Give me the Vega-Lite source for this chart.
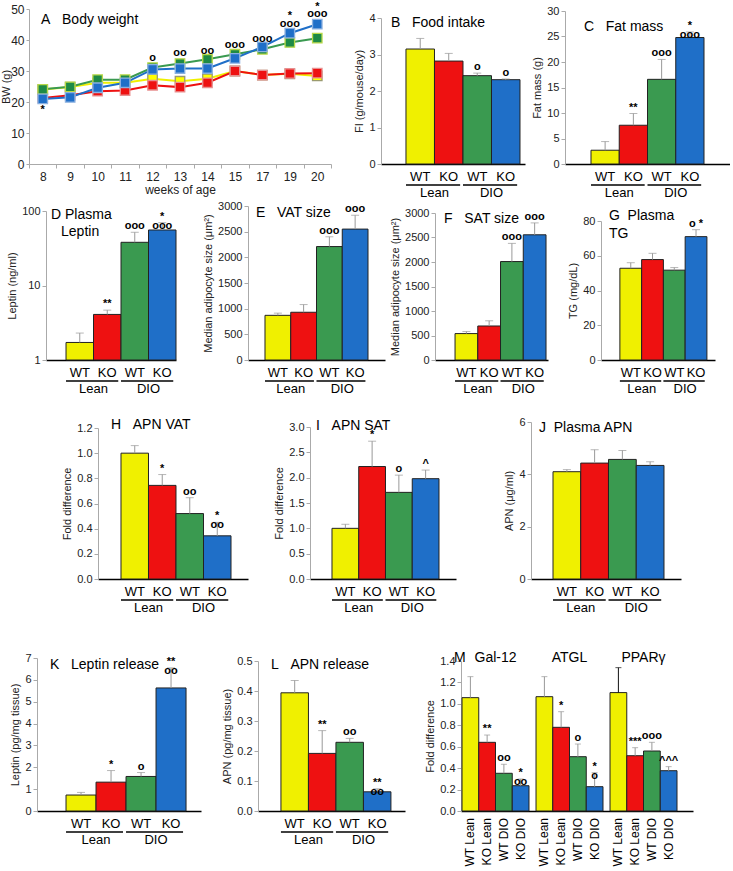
{
"$schema": "https://vega.github.io/schema/vega-lite/v6.json",
"padding": 0,
"config": {
 "font": "Liberation Sans",
 "view": {"stroke": null},
 "bar": {"stroke": "#222", "strokeWidth": 1},
 "text": {"font": "Liberation Sans"},
 "axis": {"grid": false, "labelFont": "Liberation Sans", "titleFont": "Liberation Sans", "labelColor": "#222", "titleColor": "#222", "titleFontWeight": "normal", "titleFontSize": 11, "labelFontSize": 11, "labelOverlap": false},
 "axisY": {"domainColor": "#aaa", "tickColor": "#aaa", "tickSize": 4, "labelPadding": 2, "titlePadding": 4},
 "axisX": {"domainColor": "#000", "domainWidth": 1.5, "ticks": false, "labelAngle": 0, "labelFontSize": 13, "labelPadding": 6, "labelColor": "#000"}
},
"datasets": {
 "grp": [{"grp":"Lean","a":"WT Lean","b":"KO Lean"},{"grp":"DIO","a":"WT DIO","b":"KO DIO"}],
 "A": [
  {"wk":8,"g":"WT Lean","bw":24.0},{"wk":9,"g":"WT Lean","bw":24.8},{"wk":10,"g":"WT Lean","bw":26.2},{"wk":11,"g":"WT Lean","bw":26.2},{"wk":12,"g":"WT Lean","bw":27.5},{"wk":13,"g":"WT Lean","bw":26.7},{"wk":14,"g":"WT Lean","bw":27.5},{"wk":15,"g":"WT Lean","bw":30.0},{"wk":17,"g":"WT Lean","bw":28.7},{"wk":19,"g":"WT Lean","bw":29.1},{"wk":20,"g":"WT Lean","bw":28.4},
  {"wk":8,"g":"KO Lean","bw":21.3},{"wk":9,"g":"KO Lean","bw":22.2},{"wk":10,"g":"KO Lean","bw":23.5},{"wk":11,"g":"KO Lean","bw":23.7},{"wk":12,"g":"KO Lean","bw":25.4},{"wk":13,"g":"KO Lean","bw":24.8},{"wk":14,"g":"KO Lean","bw":26.2},{"wk":15,"g":"KO Lean","bw":30.0},{"wk":17,"g":"KO Lean","bw":28.7},{"wk":19,"g":"KO Lean","bw":29.2},{"wk":20,"g":"KO Lean","bw":29.3},
  {"wk":8,"g":"WT DIO","bw":24.1},{"wk":9,"g":"WT DIO","bw":24.9},{"wk":10,"g":"WT DIO","bw":27.2},{"wk":11,"g":"WT DIO","bw":27.2},{"wk":12,"g":"WT DIO","bw":31.1},{"wk":13,"g":"WT DIO","bw":32.4},{"wk":14,"g":"WT DIO","bw":33.8},{"wk":15,"g":"WT DIO","bw":35.4},{"wk":17,"g":"WT DIO","bw":37.0},{"wk":19,"g":"WT DIO","bw":39.2},{"wk":20,"g":"WT DIO","bw":40.6},
  {"wk":8,"g":"KO DIO","bw":21.0},{"wk":9,"g":"KO DIO","bw":21.5},{"wk":10,"g":"KO DIO","bw":24.6},{"wk":11,"g":"KO DIO","bw":26.2},{"wk":12,"g":"KO DIO","bw":30.5},{"wk":13,"g":"KO DIO","bw":30.8},{"wk":14,"g":"KO DIO","bw":30.8},{"wk":15,"g":"KO DIO","bw":34.1},{"wk":17,"g":"KO DIO","bw":37.8},{"wk":19,"g":"KO DIO","bw":42.2},{"wk":20,"g":"KO DIO","bw":45.1}
 ],
 "Aann": [{"wk":8,"y":17.5,"s":"*"},{"wk":12,"y":34.3,"s":"o"},{"wk":13,"y":35.7,"s":"oo"},{"wk":14,"y":36.3,"s":"oo"},{"wk":15,"y":38.3,"s":"ooo"},{"wk":17,"y":40.3,"s":"ooo"},{"wk":19,"y":45.3,"s":"ooo"},{"wk":19,"y":47.8,"s":"*"},{"wk":20,"y":48.4,"s":"ooo"},{"wk":20,"y":50.8,"s":"*"}],
 "B": [{"g":"WT Lean","v":3.15,"hi":3.44,"sig":""},{"g":"KO Lean","v":2.82,"hi":3.03,"sig":""},{"g":"WT DIO","v":2.42,"hi":2.49,"sig":"o"},{"g":"KO DIO","v":2.31,"hi":2.33,"sig":"o"}],
 "C": [{"g":"WT Lean","v":2.7,"hi":4.4,"sig":""},{"g":"KO Lean","v":7.6,"hi":9.9,"sig":"**"},{"g":"WT DIO","v":16.6,"hi":20.5,"sig":"ooo"},{"g":"KO DIO","v":24.8,"hi":25.9,"sig":"*\nooo"}],
 "D": [{"g":"WT Lean","v":1.72,"hi":2.3,"sig":""},{"g":"KO Lean","v":4.09,"hi":4.67,"sig":"**"},{"g":"WT DIO","v":38,"hi":51.8,"sig":"ooo"},{"g":"KO DIO","v":55.6,"hi":69.8,"sig":"*\nooo"}],
 "E": [{"g":"WT Lean","v":870,"hi":913,"sig":""},{"g":"KO Lean","v":930,"hi":1080,"sig":""},{"g":"WT DIO","v":2210,"hi":2400,"sig":"ooo"},{"g":"KO DIO","v":2550,"hi":2820,"sig":"ooo"}],
 "F": [{"g":"WT Lean","v":539,"hi":580,"sig":""},{"g":"KO Lean","v":694,"hi":800,"sig":""},{"g":"WT DIO","v":2009,"hi":2380,"sig":"ooo"},{"g":"KO DIO","v":2555,"hi":2798,"sig":"ooo"}],
 "G": [{"g":"WT Lean","v":52.8,"hi":56,"sig":""},{"g":"KO Lean","v":57.8,"hi":61.4,"sig":""},{"g":"WT DIO","v":51.7,"hi":53.2,"sig":""},{"g":"KO DIO","v":71,"hi":75,"sig":"o *"}],
 "H": [{"g":"WT Lean","v":1.0,"hi":1.06,"sig":""},{"g":"KO Lean","v":0.744,"hi":0.83,"sig":"*"},{"g":"WT DIO","v":0.52,"hi":0.646,"sig":"oo"},{"g":"KO DIO","v":0.343,"hi":0.45,"sig":"*\noo"}],
 "I": [{"g":"WT Lean","v":1.0,"hi":1.08,"sig":""},{"g":"KO Lean","v":2.22,"hi":2.72,"sig":"*"},{"g":"WT DIO","v":1.71,"hi":2.05,"sig":"o"},{"g":"KO DIO","v":1.98,"hi":2.15,"sig":"^"}],
 "J": [{"g":"WT Lean","v":4.1,"hi":4.18,"sig":""},{"g":"KO Lean","v":4.43,"hi":4.94,"sig":""},{"g":"WT DIO","v":4.57,"hi":4.91,"sig":""},{"g":"KO DIO","v":4.34,"hi":4.48,"sig":""}],
 "K": [{"g":"WT Lean","v":0.73,"hi":0.85,"sig":""},{"g":"KO Lean","v":1.32,"hi":1.85,"sig":"*"},{"g":"WT DIO","v":1.58,"hi":1.76,"sig":"o"},{"g":"KO DIO","v":5.63,"hi":6.55,"sig":"**\noo"}],
 "L": [{"g":"WT Lean","v":0.394,"hi":0.435,"sig":""},{"g":"KO Lean","v":0.192,"hi":0.268,"sig":"**"},{"g":"WT DIO","v":0.229,"hi":0.242,"sig":"oo"},{"g":"KO DIO","v":0.064,"hi":0.074,"sig":"**\noo"}],
 "M": [
  {"gene":"Gal-12","g":"WT Lean","v":1.058,"hi":1.254,"sig":""},{"gene":"Gal-12","g":"KO Lean","v":0.641,"hi":0.709,"sig":"**"},{"gene":"Gal-12","g":"WT DIO","v":0.352,"hi":0.436,"sig":"oo"},{"gene":"Gal-12","g":"KO DIO","v":0.236,"hi":0.299,"sig":"*\noo"},
  {"gene":"ATGL","g":"WT Lean","v":1.067,"hi":1.254,"sig":""},{"gene":"ATGL","g":"KO Lean","v":0.781,"hi":0.927,"sig":"*"},{"gene":"ATGL","g":"WT DIO","v":0.507,"hi":0.625,"sig":"o"},{"gene":"ATGL","g":"KO DIO","v":0.227,"hi":0.358,"sig":"*\no"},
  {"gene":"PPARγ","g":"WT Lean","v":1.105,"hi":1.338,"sig":""},{"gene":"PPARγ","g":"KO Lean","v":0.516,"hi":0.591,"sig":"***"},{"gene":"PPARγ","g":"WT DIO","v":0.56,"hi":0.641,"sig":"ooo"},{"gene":"PPARγ","g":"KO DIO","v":0.376,"hi":0.414,"sig":"^^^"}
 ]
},
"spacing": 0,
"vconcat": [
 {"spacing": 0, "bounds": "flush", "hconcat": [
  {"width":1,"height":1,"data":{"values":[{}]},"mark":{"type":"point","opacity":0}},
  {"width":302,"height":155,"layer":[
   {"data":{"name":"A"},"mark":{"type":"line","strokeWidth":2},"encoding":{
     "x":{"field":"wk","type":"ordinal","bandPosition":0.5,"scale":{"type":"band","paddingInner":0,"paddingOuter":0},"axis":{"title":"weeks of age","labelAngle":0,"domainColor":"#aaa","domainWidth":1,"ticks":true,"tickColor":"#aaa","tickSize":4,"tickBand":"extent","labelFontSize":12,"labelColor":"#222","labelPadding":3,"titleFontSize":12,"titlePadding":2}},
     "y":{"field":"bw","type":"quantitative","scale":{"domain":[0,50],"nice":false},"axis":{"title":"BW (g)","values":[0,10,20,30,40,50],"tickCount":20,"format":"d","labelOverlap":false,"labelFontSize":12,"tickSize":3,"titlePadding":-1}},
     "color":{"field":"g","type":"nominal","scale":{"domain":["WT Lean","KO Lean","WT DIO","KO DIO"],"range":["#f0f000","#ee1111","#3a9a50","#1f6fc8"]},"legend":null}}},
   {"data":{"name":"A"},"mark":{"type":"point","shape":"square","size":90,"filled":true,"opacity":1,"strokeWidth":1.3},"encoding":{
     "x":{"field":"wk","type":"ordinal","bandPosition":0.5},
     "y":{"field":"bw","type":"quantitative"},
     "fill":{"field":"g","type":"nominal","scale":{"domain":["WT Lean","KO Lean","WT DIO","KO DIO"],"range":["#ffff00","#ee1111","#1e8a46","#1f6fc8"]},"legend":null},
     "stroke":{"field":"g","type":"nominal","scale":{"domain":["WT Lean","KO Lean","WT DIO","KO DIO"],"range":["#9a9a70","#e89090","#b8d848","#8ab0e0"]},"legend":null}}},
   {"data":{"name":"Aann"},"mark":{"type":"text","fontSize":11,"fontWeight":"bold","baseline":"middle"},"encoding":{
     "x":{"field":"wk","type":"ordinal","bandPosition":0.5},"y":{"field":"y","type":"quantitative"},"text":{"field":"s"}}},
   {"data":{"values":[{}]},"mark":{"type":"text","text":"A\u00a0\u00a0\u00a0Body weight","fontSize":14,"align":"left","baseline":"middle","dx":12,"dy":11},"encoding":{
     "x":{"datum":8,"type":"ordinal","bandPosition":0},"y":{"datum":50}}}
  ]},
  {"width":50,"height":1,"data":{"values":[{}]},"mark":{"type":"point","opacity":0}},
  {"width":144,"height":155,"data":{"name":"B"},"layer":[
   {"mark":"bar","encoding":{
    "x":{"field":"g","type":"nominal","scale":{"domain":["WT Lean","KO Lean","WT DIO","KO DIO"],"paddingInner":0,"paddingOuter":0.526,"align":0.833},"axis":{"title":null,"labelExpr":"split(datum.label,' ')[0]"}},
    "y":{"field":"v","type":"quantitative","scale":{"domain":[0,4],"range":[155,9],"nice":false},"axis":{"title":"FI (g/mouse/day)","values":[0,1,2,3,4],"tickCount":20,"format":"d","labelOverlap":false}},
    "color":{"field":"g","type":"nominal","scale":{"domain":["WT Lean","KO Lean","WT DIO","KO DIO"],"range":["#ffff00","#ff0000","#00b050","#0070c0"]},"legend":null}}},
   {"mark":{"type":"rule","color":"#999"},"encoding":{"x":{"field":"g","type":"nominal"},"y":{"field":"v","type":"quantitative"},"y2":{"field":"hi"}}},
   {"mark":{"type":"tick","color":"#999","size":8,"thickness":1},"encoding":{"x":{"field":"g","type":"nominal"},"y":{"field":"hi","type":"quantitative"}}},
   {"mark":{"type":"text","fontSize":11,"fontWeight":"bold","baseline":"bottom","lineBreak":"\n","lineHeight":9,"dy":-1},"encoding":{"x":{"field":"g","type":"nominal"},"y":{"field":"hi","type":"quantitative"},"text":{"field":"sig"}}},
   {"data":{"name":"grp"},"mark":{"type":"rule","color":"#000","strokeWidth":1.5,"yOffset":21},"encoding":{"x":{"field":"a","type":"nominal","bandPosition":0},"x2":{"field":"b","bandPosition":0.9},"y":{"datum":0}}},
   {"data":{"name":"grp"},"mark":{"type":"text","fontSize":13,"baseline":"middle","dy":29},"encoding":{"x":{"field":"a","type":"nominal","bandPosition":1},"y":{"datum":0},"text":{"field":"grp"}}},
   {"data":{"values":[{}]},"mark":{"type":"text","text":"B\u00a0\u00a0\u00a0Food intake","fontSize":14,"align":"left","baseline":"middle","dx":-15,"dy":5},"encoding":{"x":{"datum":"WT Lean","type":"nominal","bandPosition":0},"y":{"datum":4}}}
  ]},
  {"width":40,"height":1,"data":{"values":[{}]},"mark":{"type":"point","opacity":0}},
  {"width":165,"height":155,"data":{"name":"C"},"layer":[
   {"mark":"bar","encoding":{
    "x":{"field":"g","type":"nominal","scale":{"domain":["WT Lean","KO Lean","WT DIO","KO DIO"],"paddingInner":0,"paddingOuter":0.92,"align":0.5},"axis":{"title":null,"labelExpr":"split(datum.label,' ')[0]"}},
    "y":{"field":"v","type":"quantitative","scale":{"domain":[0,30],"range":[155,2],"nice":false},"axis":{"title":"Fat mass (g)","values":[0,5,10,15,20,25,30],"tickCount":20,"format":"d","labelOverlap":false}},
    "color":{"field":"g","type":"nominal","scale":{"domain":["WT Lean","KO Lean","WT DIO","KO DIO"],"range":["#ffff00","#ff0000","#00b050","#0070c0"]},"legend":null}}},
   {"mark":{"type":"rule","color":"#999"},"encoding":{"x":{"field":"g","type":"nominal"},"y":{"field":"v","type":"quantitative"},"y2":{"field":"hi"}}},
   {"mark":{"type":"tick","color":"#999","size":8,"thickness":1},"encoding":{"x":{"field":"g","type":"nominal"},"y":{"field":"hi","type":"quantitative"}}},
   {"mark":{"type":"text","fontSize":11,"fontWeight":"bold","baseline":"bottom","lineBreak":"\n","lineHeight":9,"dy":-1},"encoding":{"x":{"field":"g","type":"nominal"},"y":{"field":"hi","type":"quantitative"},"text":{"field":"sig"}}},
   {"data":{"name":"grp"},"mark":{"type":"rule","color":"#000","strokeWidth":1.5,"yOffset":21},"encoding":{"x":{"field":"a","type":"nominal","bandPosition":0},"x2":{"field":"b","bandPosition":0.9},"y":{"datum":0}}},
   {"data":{"name":"grp"},"mark":{"type":"text","fontSize":13,"baseline":"middle","dy":29},"encoding":{"x":{"field":"a","type":"nominal","bandPosition":1},"y":{"datum":0},"text":{"field":"grp"}}},
   {"data":{"values":[{}]},"mark":{"type":"text","text":"C\u00a0\u00a0\u00a0Fat mass","fontSize":14,"align":"left","baseline":"middle","dx":-7,"dy":16},"encoding":{"x":{"datum":"WT Lean","type":"nominal","bandPosition":0},"y":{"datum":30}}}
  ]}
 ]},
 {"spacing": 0, "bounds": "flush", "hconcat": [
  {"width":18,"height":1,"data":{"values":[{}]},"mark":{"type":"point","opacity":0}},
  {"width":130,"height":156,"data":{"name":"D"},"layer":[
   {"mark":"bar","encoding":{
    "x":{"field":"g","type":"nominal","scale":{"domain":["WT Lean","KO Lean","WT DIO","KO DIO"],"paddingInner":0,"paddingOuter":0.364,"align":1},"axis":{"title":null,"labelExpr":"split(datum.label,' ')[0]"}},
    "y":{"field":"v","type":"quantitative","scale":{"type":"log","domain":[1,100],"range":[156,7],"nice":false},"axis":{"title":"Leptin (ng/ml)","values":[1,10,100],"tickCount":20,"labelOverlap":false,"format":"d"}},
    "y2":{"datum":1},
    "color":{"field":"g","type":"nominal","scale":{"domain":["WT Lean","KO Lean","WT DIO","KO DIO"],"range":["#ffff00","#ff0000","#00b050","#0070c0"]},"legend":null}}},
   {"mark":{"type":"rule","color":"#999"},"encoding":{"x":{"field":"g","type":"nominal"},"y":{"field":"v","type":"quantitative"},"y2":{"field":"hi"}}},
   {"mark":{"type":"tick","color":"#999","size":8,"thickness":1},"encoding":{"x":{"field":"g","type":"nominal"},"y":{"field":"hi","type":"quantitative"}}},
   {"mark":{"type":"text","fontSize":11,"fontWeight":"bold","baseline":"bottom","lineBreak":"\n","lineHeight":9,"dy":-1},"encoding":{"x":{"field":"g","type":"nominal"},"y":{"field":"hi","type":"quantitative"},"text":{"field":"sig"}}},
   {"data":{"name":"grp"},"mark":{"type":"rule","color":"#000","strokeWidth":1.5,"yOffset":21},"encoding":{"x":{"field":"a","type":"nominal","bandPosition":0},"x2":{"field":"b","bandPosition":0.9},"y":{"datum":1}}},
   {"data":{"name":"grp"},"mark":{"type":"text","fontSize":13,"baseline":"middle","dy":29},"encoding":{"x":{"field":"a","type":"nominal","bandPosition":1},"y":{"datum":1},"text":{"field":"grp"}}},
   {"data":{"values":[{}]},"mark":{"type":"text","text":"D Plasma","fontSize":14,"align":"left","baseline":"middle","dx":-15,"dy":4},"encoding":{"x":{"datum":"WT Lean","type":"nominal","bandPosition":0},"y":{"datum":100}}},
   {"data":{"values":[{}]},"mark":{"type":"text","text":"Leptin","fontSize":14,"align":"left","baseline":"middle","dx":-5,"dy":21},"encoding":{"x":{"datum":"WT Lean","type":"nominal","bandPosition":0},"y":{"datum":100}}}
  ]},
  {"width":72,"height":1,"data":{"values":[{}]},"mark":{"type":"point","opacity":0}},
  {"width":137,"height":156,"data":{"name":"E"},"layer":[
   {"mark":"bar","encoding":{
    "x":{"field":"g","type":"nominal","scale":{"domain":["WT Lean","KO Lean","WT DIO","KO DIO"],"paddingInner":0,"paddingOuter":0.66,"align":0.5},"axis":{"title":null,"labelExpr":"split(datum.label,' ')[0]"}},
    "y":{"field":"v","type":"quantitative","scale":{"domain":[0,3000],"range":[156,2],"nice":false},"axis":{"title":"Median adipocyte size (μm²)","values":[0,500,1000,1500,2000,2500,3000],"tickCount":20,"labelOverlap":false,"format":"d"}},
    "color":{"field":"g","type":"nominal","scale":{"domain":["WT Lean","KO Lean","WT DIO","KO DIO"],"range":["#ffff00","#ff0000","#00b050","#0070c0"]},"legend":null}}},
   {"mark":{"type":"rule","color":"#999"},"encoding":{"x":{"field":"g","type":"nominal"},"y":{"field":"v","type":"quantitative"},"y2":{"field":"hi"}}},
   {"mark":{"type":"tick","color":"#999","size":8,"thickness":1},"encoding":{"x":{"field":"g","type":"nominal"},"y":{"field":"hi","type":"quantitative"}}},
   {"mark":{"type":"text","fontSize":11,"fontWeight":"bold","baseline":"bottom","lineBreak":"\n","lineHeight":9,"dy":-1},"encoding":{"x":{"field":"g","type":"nominal"},"y":{"field":"hi","type":"quantitative"},"text":{"field":"sig"}}},
   {"data":{"name":"grp"},"mark":{"type":"rule","color":"#000","strokeWidth":1.5,"yOffset":21},"encoding":{"x":{"field":"a","type":"nominal","bandPosition":0},"x2":{"field":"b","bandPosition":0.9},"y":{"datum":0}}},
   {"data":{"name":"grp"},"mark":{"type":"text","fontSize":13,"baseline":"middle","dy":29},"encoding":{"x":{"field":"a","type":"nominal","bandPosition":1},"y":{"datum":0},"text":{"field":"grp"}}},
   {"data":{"values":[{}]},"mark":{"type":"text","text":"E\u00a0\u00a0\u00a0VAT size","fontSize":14,"align":"left","baseline":"middle","dx":-9,"dy":7},"encoding":{"x":{"datum":"WT Lean","type":"nominal","bandPosition":0},"y":{"datum":3000}}}
  ]},
  {"width":50,"height":1,"data":{"values":[{}]},"mark":{"type":"point","opacity":0}},
  {"width":113,"height":156,"data":{"name":"F"},"layer":[
   {"mark":"bar","encoding":{
    "x":{"field":"g","type":"nominal","scale":{"domain":["WT Lean","KO Lean","WT DIO","KO DIO"],"paddingInner":0,"paddingOuter":0.484,"align":0.91},"axis":{"title":null,"labelExpr":"split(datum.label,' ')[0]"}},
    "y":{"field":"v","type":"quantitative","scale":{"domain":[0,3000],"range":[156,9],"nice":false},"axis":{"title":"Median adipocyte size (μm²)","values":[0,500,1000,1500,2000,2500,3000],"tickCount":20,"labelOverlap":false,"format":"d"}},
    "color":{"field":"g","type":"nominal","scale":{"domain":["WT Lean","KO Lean","WT DIO","KO DIO"],"range":["#ffff00","#ff0000","#00b050","#0070c0"]},"legend":null}}},
   {"mark":{"type":"rule","color":"#999"},"encoding":{"x":{"field":"g","type":"nominal"},"y":{"field":"v","type":"quantitative"},"y2":{"field":"hi"}}},
   {"mark":{"type":"tick","color":"#999","size":8,"thickness":1},"encoding":{"x":{"field":"g","type":"nominal"},"y":{"field":"hi","type":"quantitative"}}},
   {"mark":{"type":"text","fontSize":11,"fontWeight":"bold","baseline":"bottom","lineBreak":"\n","lineHeight":9,"dy":-1},"encoding":{"x":{"field":"g","type":"nominal"},"y":{"field":"hi","type":"quantitative"},"text":{"field":"sig"}}},
   {"data":{"name":"grp"},"mark":{"type":"rule","color":"#000","strokeWidth":1.5,"yOffset":21},"encoding":{"x":{"field":"a","type":"nominal","bandPosition":0},"x2":{"field":"b","bandPosition":0.9},"y":{"datum":0}}},
   {"data":{"name":"grp"},"mark":{"type":"text","fontSize":13,"baseline":"middle","dy":29},"encoding":{"x":{"field":"a","type":"nominal","bandPosition":1},"y":{"datum":0},"text":{"field":"grp"}}},
   {"data":{"values":[{}]},"mark":{"type":"text","text":"F\u00a0\u00a0\u00a0SAT size","fontSize":14,"align":"left","baseline":"middle","dx":-11,"dy":6},"encoding":{"x":{"datum":"WT Lean","type":"nominal","bandPosition":0},"y":{"datum":3000}}}
  ]},
  {"width":53,"height":1,"data":{"values":[{}]},"mark":{"type":"point","opacity":0}},
  {"width":114,"height":156,"data":{"name":"G"},"layer":[
   {"mark":"bar","encoding":{
    "x":{"field":"g","type":"nominal","scale":{"domain":["WT Lean","KO Lean","WT DIO","KO DIO"],"paddingInner":0,"paddingOuter":0.62,"align":0.7},"axis":{"title":null,"labelExpr":"split(datum.label,' ')[0]"}},
    "y":{"field":"v","type":"quantitative","scale":{"domain":[0,80],"range":[156,17],"nice":false},"axis":{"title":"TG (mg/dL)","values":[0,20,40,60,80],"tickCount":20,"format":"d","labelOverlap":false}},
    "color":{"field":"g","type":"nominal","scale":{"domain":["WT Lean","KO Lean","WT DIO","KO DIO"],"range":["#ffff00","#ff0000","#00b050","#0070c0"]},"legend":null}}},
   {"mark":{"type":"rule","color":"#999"},"encoding":{"x":{"field":"g","type":"nominal"},"y":{"field":"v","type":"quantitative"},"y2":{"field":"hi"}}},
   {"mark":{"type":"tick","color":"#999","size":8,"thickness":1},"encoding":{"x":{"field":"g","type":"nominal"},"y":{"field":"hi","type":"quantitative"}}},
   {"mark":{"type":"text","fontSize":11,"fontWeight":"bold","baseline":"bottom","lineBreak":"\n","lineHeight":9,"dy":-1},"encoding":{"x":{"field":"g","type":"nominal"},"y":{"field":"hi","type":"quantitative"},"text":{"field":"sig"}}},
   {"data":{"name":"grp"},"mark":{"type":"rule","color":"#000","strokeWidth":1.5,"yOffset":21},"encoding":{"x":{"field":"a","type":"nominal","bandPosition":0},"x2":{"field":"b","bandPosition":0.9},"y":{"datum":0}}},
   {"data":{"name":"grp"},"mark":{"type":"text","fontSize":13,"baseline":"middle","dy":29},"encoding":{"x":{"field":"a","type":"nominal","bandPosition":1},"y":{"datum":0},"text":{"field":"grp"}}},
   {"data":{"values":[{}]},"mark":{"type":"text","text":"G\u00a0\u00a0Plasma","fontSize":14,"align":"left","baseline":"middle","dx":-11,"dy":-5},"encoding":{"x":{"datum":"WT Lean","type":"nominal","bandPosition":0},"y":{"datum":80}}},
   {"data":{"values":[{}]},"mark":{"type":"text","text":"TG","fontSize":14,"align":"left","baseline":"middle","dx":-11,"dy":13},"encoding":{"x":{"datum":"WT Lean","type":"nominal","bandPosition":0},"y":{"datum":80}}}
  ]}
 ]},
 {"spacing": 0, "bounds": "flush", "hconcat": [
  {"width":70,"height":1,"data":{"values":[{}]},"mark":{"type":"point","opacity":0}},
  {"width":150,"height":180,"data":{"name":"H"},"layer":[
   {"mark":"bar","encoding":{
    "x":{"field":"g","type":"nominal","scale":{"domain":["WT Lean","KO Lean","WT DIO","KO DIO"],"paddingInner":0,"paddingOuter":0.727,"align":0.575},"axis":{"title":null,"labelExpr":"split(datum.label,' ')[0]"}},
    "y":{"field":"v","type":"quantitative","scale":{"domain":[0,1.2],"range":[180,29],"nice":false},"axis":{"title":"Fold difference","values":[0,0.2,0.4,0.6,0.8,1,1.2],"tickCount":20,"labelOverlap":false,"format":".1f"}},
    "color":{"field":"g","type":"nominal","scale":{"domain":["WT Lean","KO Lean","WT DIO","KO DIO"],"range":["#ffff00","#ff0000","#00b050","#0070c0"]},"legend":null}}},
   {"mark":{"type":"rule","color":"#999"},"encoding":{"x":{"field":"g","type":"nominal"},"y":{"field":"v","type":"quantitative"},"y2":{"field":"hi"}}},
   {"mark":{"type":"tick","color":"#999","size":8,"thickness":1},"encoding":{"x":{"field":"g","type":"nominal"},"y":{"field":"hi","type":"quantitative"}}},
   {"mark":{"type":"text","fontSize":11,"fontWeight":"bold","baseline":"bottom","lineBreak":"\n","lineHeight":9,"dy":-1},"encoding":{"x":{"field":"g","type":"nominal"},"y":{"field":"hi","type":"quantitative"},"text":{"field":"sig"}}},
   {"data":{"name":"grp"},"mark":{"type":"rule","color":"#000","strokeWidth":1.5,"yOffset":21},"encoding":{"x":{"field":"a","type":"nominal","bandPosition":0},"x2":{"field":"b","bandPosition":0.9},"y":{"datum":0}}},
   {"data":{"name":"grp"},"mark":{"type":"text","fontSize":13,"baseline":"middle","dy":29},"encoding":{"x":{"field":"a","type":"nominal","bandPosition":1},"y":{"datum":0},"text":{"field":"grp"}}},
   {"data":{"values":[{}]},"mark":{"type":"text","text":"H\u00a0\u00a0\u00a0APN VAT","fontSize":14,"align":"left","baseline":"middle","dx":-10,"dy":-3},"encoding":{"x":{"datum":"WT Lean","type":"nominal","bandPosition":0},"y":{"datum":1.2}}}
  ]},
  {"width":62,"height":1,"data":{"values":[{}]},"mark":{"type":"point","opacity":0}},
  {"width":146,"height":180,"data":{"name":"I"},"layer":[
   {"mark":"bar","encoding":{
    "x":{"field":"g","type":"nominal","scale":{"domain":["WT Lean","KO Lean","WT DIO","KO DIO"],"paddingInner":0,"paddingOuter":0.729,"align":0.564},"axis":{"title":null,"labelExpr":"split(datum.label,' ')[0]"}},
    "y":{"field":"v","type":"quantitative","scale":{"domain":[0,3],"range":[180,28],"nice":false},"axis":{"title":"Fold difference","values":[0,0.5,1,1.5,2,2.5,3],"tickCount":20,"labelOverlap":false,"format":".1f"}},
    "color":{"field":"g","type":"nominal","scale":{"domain":["WT Lean","KO Lean","WT DIO","KO DIO"],"range":["#ffff00","#ff0000","#00b050","#0070c0"]},"legend":null}}},
   {"mark":{"type":"rule","color":"#999"},"encoding":{"x":{"field":"g","type":"nominal"},"y":{"field":"v","type":"quantitative"},"y2":{"field":"hi"}}},
   {"mark":{"type":"tick","color":"#999","size":8,"thickness":1},"encoding":{"x":{"field":"g","type":"nominal"},"y":{"field":"hi","type":"quantitative"}}},
   {"mark":{"type":"text","fontSize":11,"fontWeight":"bold","baseline":"bottom","lineBreak":"\n","lineHeight":9,"dy":-1},"encoding":{"x":{"field":"g","type":"nominal"},"y":{"field":"hi","type":"quantitative"},"text":{"field":"sig"}}},
   {"data":{"name":"grp"},"mark":{"type":"rule","color":"#000","strokeWidth":1.5,"yOffset":21},"encoding":{"x":{"field":"a","type":"nominal","bandPosition":0},"x2":{"field":"b","bandPosition":0.9},"y":{"datum":0}}},
   {"data":{"name":"grp"},"mark":{"type":"text","fontSize":13,"baseline":"middle","dy":29},"encoding":{"x":{"field":"a","type":"nominal","bandPosition":1},"y":{"datum":0},"text":{"field":"grp"}}},
   {"data":{"values":[{}]},"mark":{"type":"text","text":"I\u00a0\u00a0\u00a0APN SAT","fontSize":14,"align":"left","baseline":"middle","dx":-16,"dy":-1},"encoding":{"x":{"datum":"WT Lean","type":"nominal","bandPosition":0},"y":{"datum":3}}}
  ]},
  {"width":75,"height":1,"data":{"values":[{}]},"mark":{"type":"point","opacity":0}},
  {"width":150,"height":180,"data":{"name":"J"},"layer":[
   {"mark":"bar","encoding":{
    "x":{"field":"g","type":"nominal","scale":{"domain":["WT Lean","KO Lean","WT DIO","KO DIO"],"paddingInner":0,"paddingOuter":0.703,"align":0.564},"axis":{"title":null,"labelExpr":"split(datum.label,' ')[0]"}},
    "y":{"field":"v","type":"quantitative","scale":{"domain":[0,6],"range":[180,23],"nice":false},"axis":{"title":"APN (μg/ml)","values":[0,2,4,6],"tickCount":20,"format":"d","labelOverlap":false}},
    "color":{"field":"g","type":"nominal","scale":{"domain":["WT Lean","KO Lean","WT DIO","KO DIO"],"range":["#ffff00","#ff0000","#00b050","#0070c0"]},"legend":null}}},
   {"mark":{"type":"rule","color":"#999"},"encoding":{"x":{"field":"g","type":"nominal"},"y":{"field":"v","type":"quantitative"},"y2":{"field":"hi"}}},
   {"mark":{"type":"tick","color":"#999","size":8,"thickness":1},"encoding":{"x":{"field":"g","type":"nominal"},"y":{"field":"hi","type":"quantitative"}}},
   {"data":{"name":"grp"},"mark":{"type":"rule","color":"#000","strokeWidth":1.5,"yOffset":21},"encoding":{"x":{"field":"a","type":"nominal","bandPosition":0},"x2":{"field":"b","bandPosition":0.9},"y":{"datum":0}}},
   {"data":{"name":"grp"},"mark":{"type":"text","fontSize":13,"baseline":"middle","dy":29},"encoding":{"x":{"field":"a","type":"nominal","bandPosition":1},"y":{"datum":0},"text":{"field":"grp"}}},
   {"data":{"values":[{}]},"mark":{"type":"text","text":"J\u00a0\u00a0Plasma APN","fontSize":14,"align":"left","baseline":"middle","dx":-14,"dy":6},"encoding":{"x":{"datum":"WT Lean","type":"nominal","bandPosition":0},"y":{"datum":6}}}
  ]}
 ]},
 {"spacing": 0, "bounds": "flush", "hconcat": [
  {"width":9,"height":1,"data":{"values":[{}]},"mark":{"type":"point","opacity":0}},
  {"width":164,"height":193,"data":{"name":"K"},"layer":[
   {"mark":"bar","encoding":{
    "x":{"field":"g","type":"nominal","scale":{"domain":["WT Lean","KO Lean","WT DIO","KO DIO"],"paddingInner":0,"paddingOuter":0.733,"align":0.66},"axis":{"title":null,"labelExpr":"split(datum.label,' ')[0]"}},
    "y":{"field":"v","type":"quantitative","scale":{"domain":[0,7],"range":[193,40],"nice":false},"axis":{"title":"Leptin (pg/mg tissue)","values":[0,1,2,3,4,5,6,7],"tickCount":20,"format":"d","labelOverlap":false}},
    "color":{"field":"g","type":"nominal","scale":{"domain":["WT Lean","KO Lean","WT DIO","KO DIO"],"range":["#ffff00","#ff0000","#00b050","#0070c0"]},"legend":null}}},
   {"mark":{"type":"rule","color":"#999"},"encoding":{"x":{"field":"g","type":"nominal"},"y":{"field":"v","type":"quantitative"},"y2":{"field":"hi"}}},
   {"mark":{"type":"tick","color":"#999","size":8,"thickness":1},"encoding":{"x":{"field":"g","type":"nominal"},"y":{"field":"hi","type":"quantitative"}}},
   {"mark":{"type":"text","fontSize":11,"fontWeight":"bold","baseline":"bottom","lineBreak":"\n","lineHeight":9,"dy":-1},"encoding":{"x":{"field":"g","type":"nominal"},"y":{"field":"hi","type":"quantitative"},"text":{"field":"sig"}}},
   {"data":{"name":"grp"},"mark":{"type":"rule","color":"#000","strokeWidth":1.5,"yOffset":21},"encoding":{"x":{"field":"a","type":"nominal","bandPosition":0},"x2":{"field":"b","bandPosition":0.9},"y":{"datum":0}}},
   {"data":{"name":"grp"},"mark":{"type":"text","fontSize":13,"baseline":"middle","dy":29},"encoding":{"x":{"field":"a","type":"nominal","bandPosition":1},"y":{"datum":0},"text":{"field":"grp"}}},
   {"data":{"values":[{}]},"mark":{"type":"text","text":"K\u00a0\u00a0\u00a0Leptin release","fontSize":14,"align":"left","baseline":"middle","dx":-16,"dy":7},"encoding":{"x":{"datum":"WT Lean","type":"nominal","bandPosition":0},"y":{"datum":7}}}
  ]},
  {"width":57,"height":1,"data":{"values":[{}]},"mark":{"type":"point","opacity":0}},
  {"width":147,"height":193,"data":{"name":"L"},"layer":[
   {"mark":"bar","encoding":{
    "x":{"field":"g","type":"nominal","scale":{"domain":["WT Lean","KO Lean","WT DIO","KO DIO"],"paddingInner":0,"paddingOuter":0.673,"align":0.62},"axis":{"title":null,"labelExpr":"split(datum.label,' ')[0]"}},
    "y":{"field":"v","type":"quantitative","scale":{"domain":[0,0.5],"range":[193,43],"nice":false},"axis":{"title":"APN (pg/mg tissue)","values":[0,0.1,0.2,0.3,0.4,0.5],"tickCount":20,"labelOverlap":false,"format":".1f"}},
    "color":{"field":"g","type":"nominal","scale":{"domain":["WT Lean","KO Lean","WT DIO","KO DIO"],"range":["#ffff00","#ff0000","#00b050","#0070c0"]},"legend":null}}},
   {"mark":{"type":"rule","color":"#999"},"encoding":{"x":{"field":"g","type":"nominal"},"y":{"field":"v","type":"quantitative"},"y2":{"field":"hi"}}},
   {"mark":{"type":"tick","color":"#999","size":8,"thickness":1},"encoding":{"x":{"field":"g","type":"nominal"},"y":{"field":"hi","type":"quantitative"}}},
   {"mark":{"type":"text","fontSize":11,"fontWeight":"bold","baseline":"bottom","lineBreak":"\n","lineHeight":9,"dy":-1},"encoding":{"x":{"field":"g","type":"nominal"},"y":{"field":"hi","type":"quantitative"},"text":{"field":"sig"}}},
   {"data":{"name":"grp"},"mark":{"type":"rule","color":"#000","strokeWidth":1.5,"yOffset":21},"encoding":{"x":{"field":"a","type":"nominal","bandPosition":0},"x2":{"field":"b","bandPosition":0.9},"y":{"datum":0}}},
   {"data":{"name":"grp"},"mark":{"type":"text","fontSize":13,"baseline":"middle","dy":29},"encoding":{"x":{"field":"a","type":"nominal","bandPosition":1},"y":{"datum":0},"text":{"field":"grp"}}},
   {"data":{"values":[{}]},"mark":{"type":"text","text":"L\u00a0\u00a0\u00a0APN release","fontSize":14,"align":"left","baseline":"middle","dx":-10,"dy":4},"encoding":{"x":{"datum":"WT Lean","type":"nominal","bandPosition":0},"y":{"datum":0.5}}}
  ]},
  {"width":56,"height":1,"data":{"values":[{}]},"mark":{"type":"point","opacity":0}},
  {"width":232,"height":193,"data":{"name":"M"},"layer":[
   {"mark":"bar","encoding":{
    "x":{"field":"gene","type":"nominal","scale":{"domain":["Gal-12","ATGL","PPARγ"],"paddingInner":0.095,"paddingOuter":0.115,"align":0.06},"axis":{"title":null,"labels":false}},
    "xOffset":{"field":"g","type":"nominal","scale":{"domain":["WT Lean","KO Lean","WT DIO","KO DIO"],"paddingInner":0,"paddingOuter":0}},
    "y":{"field":"v","type":"quantitative","scale":{"domain":[0,1.4],"range":[193,43],"nice":false},"axis":{"title":"Fold difference","values":[0,0.2,0.4,0.6,0.8,1,1.2,1.4],"tickCount":20,"labelOverlap":false,"format":".1f"}},
    "color":{"field":"g","type":"nominal","scale":{"domain":["WT Lean","KO Lean","WT DIO","KO DIO"],"range":["#ffff00","#ff0000","#00b050","#0070c0"]},"legend":null}}},
   {"mark":{"type":"rule"},"encoding":{"x":{"field":"gene","type":"nominal"},"xOffset":{"field":"g","type":"nominal"},"y":{"field":"v","type":"quantitative"},"y2":{"field":"hi"},
     "color":{"condition":{"test":"datum.gene === 'PPARγ' && datum.g === 'WT Lean'","value":"#111"},"value":"#999"}}},
   {"mark":{"type":"tick","size":6,"thickness":1},"encoding":{"x":{"field":"gene","type":"nominal"},"xOffset":{"field":"g","type":"nominal"},"y":{"field":"hi","type":"quantitative"},
     "color":{"condition":{"test":"datum.gene === 'PPARγ' && datum.g === 'WT Lean'","value":"#111"},"value":"#999"}}},
   {"mark":{"type":"text","fontSize":11,"fontWeight":"bold","baseline":"bottom","lineBreak":"\n","lineHeight":9,"dy":-1},"encoding":{"x":{"field":"gene","type":"nominal"},"xOffset":{"field":"g","type":"nominal"},"y":{"field":"hi","type":"quantitative"},"text":{"field":"sig"}}},
   {"mark":{"type":"text","angle":270,"align":"right","baseline":"middle","fontSize":12,"yOffset":7},"encoding":{"x":{"field":"gene","type":"nominal"},"xOffset":{"field":"g","type":"nominal"},"y":{"datum":0},"text":{"field":"g"}}},
   {"data":{"values":[{"gene":"Gal-12"},{"gene":"ATGL"},{"gene":"PPARγ"}]},"mark":{"type":"text","fontSize":14,"baseline":"middle","dy":-3},"encoding":{"x":{"field":"gene","type":"nominal"},"y":{"datum":1.4},"text":{"field":"gene"}}},
   {"data":{"values":[{}]},"mark":{"type":"text","text":"M","fontSize":14,"align":"left","baseline":"middle","dx":-8,"dy":-3},"encoding":{"x":{"datum":"Gal-12","type":"nominal","bandPosition":0},"y":{"datum":1.4}}}
  ]}
 ]}
]
}
